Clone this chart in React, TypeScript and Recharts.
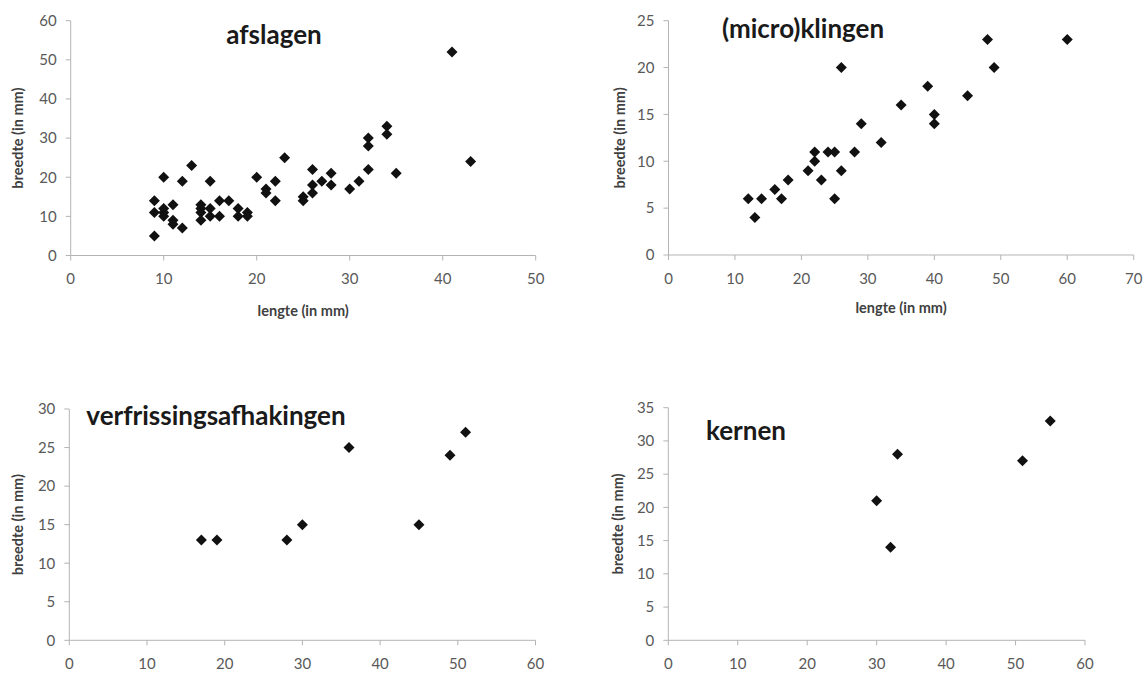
import React from 'react';
import { ScatterChart, Scatter, XAxis, YAxis } from 'recharts';

// afslagen: lengte (x) / breedte (y)
const afslagenX = [9, 9, 9, 10, 10, 10, 10, 11, 11, 11, 12, 12, 13, 14, 14, 14, 14, 15, 15, 15, 16, 16, 17, 18, 18, 19, 19, 20, 21, 21, 22, 22, 23, 25, 25, 26, 26, 26, 27, 28, 28, 30, 31, 32, 32, 32, 34, 34, 35, 41, 43];
const afslagenY = [5, 11, 14, 20, 12, 11, 10, 13, 9, 8, 19, 7, 23, 13, 12, 11, 9, 19, 12, 10, 14, 10, 14, 12, 10, 11, 10, 20, 17, 16, 19, 14, 25, 15, 14, 22, 18, 16, 19, 21, 18, 17, 19, 30, 28, 22, 33, 31, 21, 52, 24];

// (micro)klingen
const klingenX = [12, 13, 14, 16, 17, 18, 21, 22, 22, 23, 24, 25, 25, 26, 26, 28, 29, 32, 35, 39, 40, 40, 45, 48, 49, 60];
const klingenY = [6, 4, 6, 7, 6, 8, 9, 10, 11, 8, 11, 11, 6, 20, 9, 11, 14, 12, 16, 18, 15, 14, 17, 23, 20, 23];

// verfrissingsafhakingen
const verfrisX = [17, 19, 28, 30, 36, 45, 49, 51];
const verfrisY = [13, 13, 13, 15, 25, 15, 24, 27];

// kernen
const kernenX = [30, 32, 33, 51, 55];
const kernenY = [21, 14, 28, 27, 33];

const ticks50 = [0, 10, 20, 30, 40, 50];
const ticks60 = [0, 10, 20, 30, 40, 50, 60];
const ticks70 = [0, 10, 20, 30, 40, 50, 60, 70];
const yTicks60 = [0, 10, 20, 30, 40, 50, 60];
const yTicks25 = [0, 5, 10, 15, 20, 25];
const yTicks30 = [0, 5, 10, 15, 20, 25, 30];
const yTicks35 = [0, 5, 10, 15, 20, 25, 30, 35];

const xLabel = 'lengte (in mm)';
const yLabel = 'breedte (in mm)';

const pairs = (xs: number[], ys: number[]) => xs.map((x, i) => ({ x, y: ys[i] }));

const FONT = 'Lato, "Open Sans", sans-serif';
const AXIS_COLOR = '#b3b3b3';
const TICK_COLOR = '#595959';

const Diamond = (props: any) => {
  const { cx, cy } = props;
  if (cx == null || cy == null) return null;
  const r = 5.5;
  return (
    <polygon
      points={`${cx},${cy - r} ${cx + r},${cy} ${cx},${cy + r} ${cx - r},${cy}`}
      fill="#111111"
    />
  );
};

type PanelProps = {
  box: { left: number; top: number; width: number; height: number };
  plot: { left: number; top: number; right: number; bottom: number };
  data: { x: number; y: number }[];
  xTicks: number[];
  yTicks: number[];
  title: string;
  titlePos: { x: number; y: number };
  yLabelX: number;
  showXLabel: boolean;
  xLabelOffset: number;
};

const Panel = ({ box, plot, data, xTicks, yTicks, title, titlePos, yLabelX, showXLabel, xLabelOffset }: PanelProps) => {
  const margin = {
    top: plot.top - box.top,
    right: box.left + box.width - plot.right,
    left: 0,
    bottom: 0,
  };
  const yAxisWidth = plot.left - box.left;
  const xAxisHeight = box.top + box.height - plot.bottom;
  const tickStyle = { fill: TICK_COLOR, fontSize: 15, fontFamily: FONT };
  return (
    <div style={{ position: 'absolute', left: box.left, top: box.top, width: box.width, height: box.height }}>
      <ScatterChart width={box.width} height={box.height} margin={margin}>
        <XAxis
          type="number"
          dataKey="x"
          domain={[xTicks[0], xTicks[xTicks.length - 1]]}
          ticks={xTicks}
          interval={0}
          height={xAxisHeight}
          tick={tickStyle}
          tickSize={5}
          tickMargin={13}
          axisLine={{ stroke: AXIS_COLOR }}
          tickLine={{ stroke: AXIS_COLOR }}
          label={
            showXLabel
              ? {
                  value: xLabel,
                  position: 'insideBottom',
                  offset: xLabelOffset,
                  style: { fill: '#404040', fontSize: 14.5, fontWeight: 700, fontFamily: FONT },
                }
              : undefined
          }
        />
        <YAxis
          type="number"
          dataKey="y"
          domain={[yTicks[0], yTicks[yTicks.length - 1]]}
          ticks={yTicks}
          interval={0}
          width={yAxisWidth}
          tick={tickStyle}
          tickSize={5}
          tickMargin={9}
          axisLine={{ stroke: AXIS_COLOR }}
          tickLine={{ stroke: AXIS_COLOR }}
          label={{
            value: yLabel,
            angle: -90,
            position: 'insideLeft',
            offset: yLabelX,
            style: { textAnchor: 'middle', fill: '#404040', fontSize: 14.5, fontWeight: 700, fontFamily: FONT },
          }}
        />
        <Scatter data={data} shape={Diamond} isAnimationActive={false} />
        <text
          x={titlePos.x - box.left}
          y={titlePos.y - box.top}
          textAnchor="middle"
          dominantBaseline="central"
          style={{ fontFamily: FONT, fontWeight: 700, fontSize: 26, fill: '#1a1a1a' }}
        >
          {title}
        </text>
      </ScatterChart>
    </div>
  );
};

export default function App() {
  return (
    <div style={{ position: 'absolute', left: 0, top: 0, width: 1144, height: 675, background: '#ffffff', overflow: 'hidden' }}>
      <Panel
        box={{ left: 0, top: 0, width: 560, height: 330 }}
        plot={{ left: 70.7, top: 20.7, right: 535.7, bottom: 255.5 }}
        data={pairs(afslagenX, afslagenY)}
        xTicks={ticks50}
        yTicks={yTicks60}
        title="afslagen"
        titlePos={{ x: 274, y: 34 }}
        yLabelX={18}
        showXLabel={true}
        xLabelOffset={14}
      />
      <Panel
        box={{ left: 600, top: 0, width: 544, height: 330 }}
        plot={{ left: 668.5, top: 20.7, right: 1133.7, bottom: 255 }}
        data={pairs(klingenX, klingenY)}
        xTicks={ticks70}
        yTicks={yTicks25}
        title="(micro)klingen"
        titlePos={{ x: 803, y: 28 }}
        yLabelX={20}
        showXLabel={true}
        xLabelOffset={17}
      />
      <Panel
        box={{ left: 0, top: 380, width: 560, height: 295 }}
        plot={{ left: 69.3, top: 409, right: 535.5, bottom: 640.3 }}
        data={pairs(verfrisX, verfrisY)}
        xTicks={ticks60}
        yTicks={yTicks30}
        title="verfrissingsafhakingen"
        titlePos={{ x: 216, y: 415 }}
        yLabelX={18}
        showXLabel={false}
        xLabelOffset={0}
      />
      <Panel
        box={{ left: 600, top: 380, width: 544, height: 295 }}
        plot={{ left: 668.3, top: 407.7, right: 1085, bottom: 640.3 }}
        data={pairs(kernenX, kernenY)}
        xTicks={ticks60}
        yTicks={yTicks35}
        title="kernen"
        titlePos={{ x: 746, y: 430 }}
        yLabelX={18}
        showXLabel={false}
        xLabelOffset={0}
      />
    </div>
  );
}
